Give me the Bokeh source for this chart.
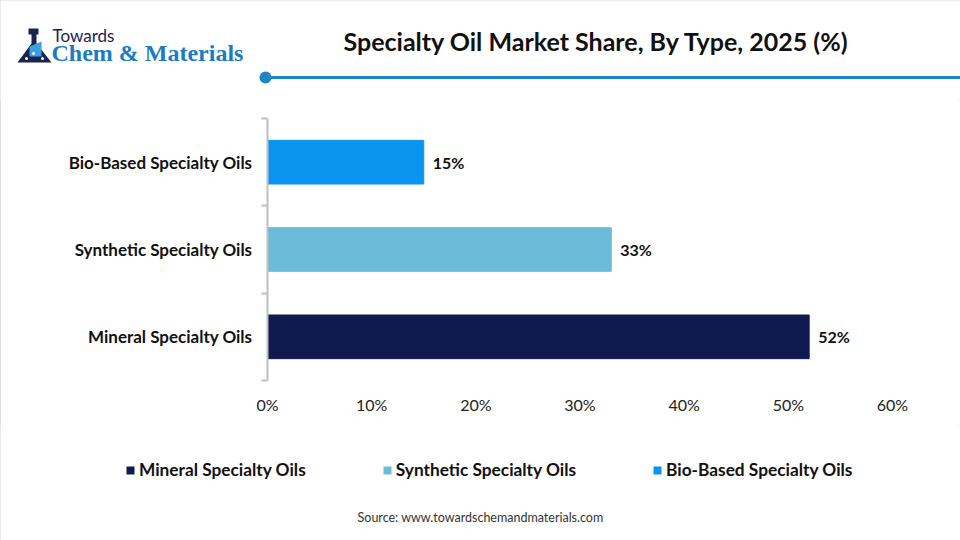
from bokeh.plotting import figure
from bokeh.layouts import column
from bokeh.models import (Range1d, FixedTicker, Legend, LegendItem, ColumnDataSource)
from bokeh.core.properties import value
from bokeh.embed import file_html
from bokeh.resources import INLINE

# ---------------- data ----------------
categories = ["Mineral Specialty Oils", "Synthetic Specialty Oils", "Bio-Based Specialty Oils"]
shares = [52, 33, 15]
bar_colors = ["#111a4e", "#6bbcd9", "#0a94f0"]
x_ticks = [0, 10, 20, 30, 40, 50, 60]
x_tick_labels = ["0%", "10%", "20%", "30%", "40%", "50%", "60%"]
title_text = "Specialty Oil Market Share, By Type, 2025 (%)"
source_text = "Source: www.towardschemandmaterials.com"

W, H = 960, 540
FONT = "Lato"
HEAD_H = 100          # header strip (page y 0..100)
FOOT_TOP = 425        # footer strip (page y 425..540)
FL, FT, FR, FB = 267, 118, 892, 380   # chart frame edges in page pixels


def strip(y0, y1):
    f = figure(width=W, height=y1 - y0, output_backend="svg", toolbar_location=None,
               x_range=Range1d(0, W), y_range=Range1d(y1, y0),
               x_axis_type=None, y_axis_type=None, min_border=0, frame_align=False)
    f.outline_line_color = None
    f.xgrid.visible = False
    f.ygrid.visible = False
    f.background_fill_color = "white"
    f.border_fill_color = "white"
    return f


# ---------------- header ----------------
head = strip(0, HEAD_H)
head.text(x=[596], y=[40], text=[title_text], text_align="center", text_baseline="middle",
          text_font=value(FONT), text_font_style="bold", text_font_size="25px",
          text_color="#111111")
head.segment(x0=[265], y0=[77], x1=[960], y1=[77], line_color="#1e86c6", line_width=3)
head.scatter(x=[265], y=[77], size=12, marker="circle", fill_color="#1e86c6", line_color=None)
# logo: flask icon + wordmark
head.patch(x=[28, 38, 38, 36, 36, 51, 17, 31, 31, 28],
           y=[28, 28, 34, 34, 43, 62, 62, 43, 34, 34], fill_color="#1a2350", line_color=None)
head.patch(x=[29, 41, 41, 29], y=[56, 56, 41, 46], fill_color="#3aa0e0", line_color=None)
head.scatter(x=[26, 33, 42], y=[58, 53, 58], size=3, marker="circle", fill_color="white",
             line_color=None)
head.text(x=[52], y=[35], text=["Towards"], text_baseline="middle", text_font=value(FONT),
          text_font_size="17px", text_color="#1a2350")
head.text(x=[51], y=[52], text=["Chem & Materials"], text_baseline="middle",
          text_font=value("Liberation Serif"), text_font_style="bold",
          text_font_size="24px", text_color="#1b7cc4")

# ---------------- chart ----------------
p = figure(width=W, height=FOOT_TOP - HEAD_H, output_backend="svg", toolbar_location=None,
           x_range=Range1d(0, 60), y_range=Range1d(0, len(categories)),
           min_border_left=FL, min_border_right=W - FR, min_border_top=FT - HEAD_H,
           min_border_bottom=FOOT_TOP - FB, frame_align=False)
p.outline_line_color = None
p.xgrid.grid_line_color = None
p.ygrid.grid_line_color = None
p.background_fill_color = "white"
p.border_fill_color = "white"

ys = [i + 0.5 for i in range(len(categories))]
src = ColumnDataSource(dict(y=ys, share=shares, cat=categories, color=bar_colors,
                            lab=[f"{v}%" for v in shares]))
p.hbar(y="y", right="share", left=0, height=0.5, color="color", source=src)
p.text(x="share", y="y", text="lab", source=src, x_offset=9,
       text_baseline="middle", text_align="left", text_font=value(FONT),
       text_font_style="bold", text_font_size="16px", text_color="#111111")

xa = p.xaxis[0]
xa.ticker = FixedTicker(ticks=x_ticks)
xa.major_label_overrides = {t: l for t, l in zip(x_ticks, x_tick_labels)}
xa.axis_line_color = None
xa.major_tick_line_color = None
xa.minor_tick_line_color = None
xa.major_label_text_font = FONT
xa.major_label_text_font_size = "16px"
xa.major_label_text_color = "#222222"
xa.major_label_standoff = 8

ya = p.yaxis[0]
ya.ticker = FixedTicker(ticks=ys, minor_ticks=list(range(len(categories) + 1)))
ya.major_label_overrides = {y: c for y, c in zip(ys, categories)}
ya.axis_line_color = "#bfbfbf"
ya.axis_line_width = 2
ya.major_tick_line_color = None
ya.major_tick_out = 0
ya.minor_tick_line_color = "#bfbfbf"
ya.minor_tick_line_width = 2
ya.minor_tick_out = 6
ya.minor_tick_in = 0
ya.major_label_text_font = FONT
ya.major_label_text_font_style = "bold"
ya.major_label_text_font_size = "17px"
ya.major_label_text_color = "#111111"
ya.major_label_standoff = 9

# ---------------- footer: legend + source ----------------
foot = strip(FOOT_TOP, H)
# zero-size proxies of the bars, only used for the legend swatches
lg = foot.hbar(y="y", left="share", right="share", height=0, fill_color="color",
               line_color=None, source=src)
items = [LegendItem(label=c, renderers=[lg], index=i) for i, c in enumerate(categories)]
leg = Legend(items=items, orientation="horizontal", location=(125, H - 480),
             glyph_width=10, glyph_height=10, label_standoff=4, spacing=76,
             padding=0, margin=0, border_line_color=None, background_fill_alpha=0,
             label_text_font=FONT, label_text_font_style="bold",
             label_text_font_size="17.3px", label_text_color="#111111",
             label_height=20)
foot.add_layout(leg, "center")
foot.text(x=[480], y=[517], text=[source_text], text_align="center", text_baseline="middle",
          text_font=value(FONT), text_font_size="12.5px", text_color="#333333")

layout = column(head, p, foot, spacing=0)
layout.styles = {"outline": "1px solid #d6d6d6", "outline-offset": "-1px"}
open("out.html", "w").write(file_html(layout, INLINE))
